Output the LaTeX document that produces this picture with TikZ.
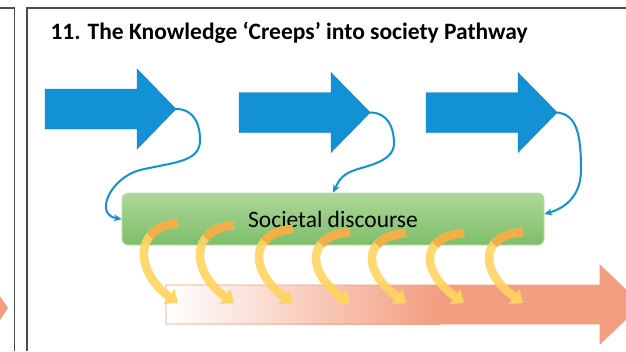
\documentclass[tikz,border=0pt]{standalone}
\usepackage{fontspec}
\setmainfont{Carlito}
\usetikzlibrary{arrows.meta}
\definecolor{flowblue}{RGB}{18,146,212}
\definecolor{salmon}{RGB}{242,158,128}
\definecolor{greentop}{RGB}{172,216,152}
\definecolor{greenbot}{RGB}{126,190,106}
\definecolor{creepyellow}{RGB}{255,212,96}
\definecolor{creeporange}{RGB}{243,162,62}
\tikzset{
  panel/.style={draw=black!70, line width=1.6pt},
  bluearrow/.style={fill=flowblue, draw=flowblue!85!black, line width=0.4pt},
  bluelink/.style={draw=flowblue, line width=2pt, -{Stealth[length=8pt,width=7pt]}},
  discbox/.style={rectangle, rounded corners=6pt, minimum width=422pt, minimum height=52pt,
    top color=greentop, bottom color=greenbot, draw=greentop!80!white, line width=0.6pt,
    font=\fontsize{23.5}{27}\selectfont},
  creep/.style={draw=creepyellow, line width=8.5pt, opacity=0.9, -{Triangle[length=11pt,width=18pt]}},
  creeptop/.style={draw=creeporange, line width=8.5pt, opacity=0.75, dash pattern=on 32pt off 300pt}
}
\begin{document}
\begin{tikzpicture}[x=1pt,y=-1pt]
  \useasboundingbox (0,0) rectangle (626,351);
  \clip (0,0) rectangle (626,351);
  \fill[white] (0,0) rectangle (626,351);
  % panel frames
  \draw[panel] (0,8) -- (14.5,8) -- (14.5,351);
  \draw[panel] (27,351) -- (27,8) -- (626,8);
  \fill[salmon] (0,296) -- (8,308) -- (0,320) -- cycle;
  \node[anchor=west, font=\bfseries\fontsize{23.5}{27}\selectfont] (title) at (47,33)
    {11. The Knowledge ‘Creeps’ into society Pathway};
  % knowledge arrows
  \foreach \n/\x/\y in {1/45/109, 2/239/112.5, 3/426/112.5} {
    \draw[bluearrow] (\x,\y) -- ++(0,-20) -- ++(92,0) -- ++(0,-20) -- ++(39,40)
      -- ++(-39,40) -- ++(0,-20) -- ++(-92,0) -- cycle;
    \coordinate (tip\n) at (\x+131,\y);
  }
  % stream into society
  \shade[left color=white, right color=salmon] (166,285) rectangle (440,324);
  \fill[salmon] (440,285) -- (600,285) -- (600,265) -- (641,304.5) -- (600,344)
    -- (600,324) -- (440,324) -- cycle;
  \draw[salmon, line width=0.8pt] (166,285) -- (600,285) -- (600,265) -- (641,304.5)
    -- (600,344) -- (600,324) -- (166,324) -- cycle;
  \coordinate (stream) at (166,304.5);
  \node[discbox] (disc) at (333,219) {Societal discourse};
  % links into the discourse
  \draw[bluelink] (tip1) .. controls +(18,0) and +(0,-16) .. (200,140)
    .. controls +(0,22) and +(35,-8) .. (140,170)
    .. controls +(-30,8) and +(-28,-4) .. (disc.west);
  \draw[bluelink] (tip2) .. controls +(18,0) and +(0,-15) .. (394,143)
    .. controls +(0,18) and +(15,-5) .. (355,170)
    .. controls +(-15,5) and +(5,-10) .. (disc.north);
  \draw[bluelink] (tip3) .. controls +(20,2) and +(0,-35) .. (581,170)
    .. controls +(0,28) and +(18,-5) .. ([yshift=5pt]disc.east);
  % creeping arrows
  \foreach \i/\xs/\ys in {1/178/223, 2/234/225, 3/293/229, 4/350/232, 5/406/233, 6/464/233, 7/523/232} {
    \coordinate (src\i) at (\xs,\ys);
    \coordinate (dst\i) at (\xs,303);
    \draw[creep] (src\i) .. controls +(-46,4) and +(-42,-30) .. (dst\i);
    \draw[creeptop] (src\i) .. controls +(-46,4) and +(-42,-30) .. (dst\i);
  }
\end{tikzpicture}
\end{document}
